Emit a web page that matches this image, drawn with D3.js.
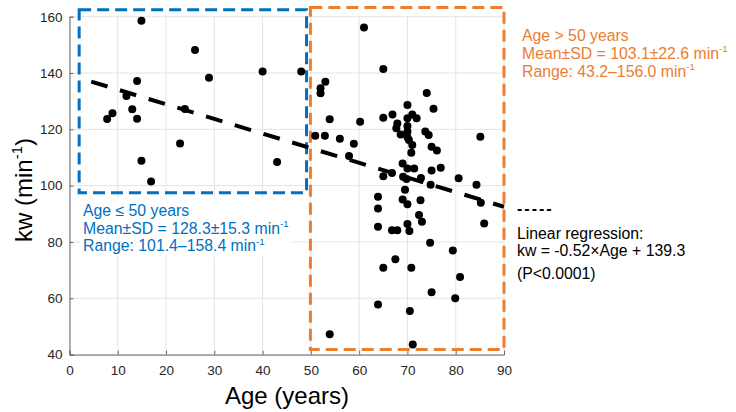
<!DOCTYPE html>
<html>
<head>
<meta charset="utf-8">
<script src="https://cdn.jsdelivr.net/npm/d3@7"></script>
<style>
    body { margin: 0; background: #fff; }
    text { font-family: "Liberation Sans", Arial, Helvetica, sans-serif; }
</style>
</head>
<body>
<div id="container"></div>
<script>
// ages and kw values, age <= 50 group
var youngAge = [7.8, 8.9, 11.8, 13.0, 14.0, 14.0, 14.9, 14.9, 16.9, 22.9, 23.9, 26.0, 28.9, 40.0, 43.0, 48.0];
var youngKw  = [123.7, 125.7, 131.8, 127.1, 137.2, 123.8, 158.6, 108.8, 101.5, 115.0, 127.2, 148.2, 138.3, 140.5, 108.4, 140.5];

// ages and kw values, age > 50 group
var oldAge = [50.9, 52.9, 53.0, 52.0, 52.0, 53.9, 56.0, 57.9, 58.9, 60.2, 61.0, 65.0, 53.9,
    74.0, 70.0, 75.4, 66.9, 65.0, 71.0, 70.0, 71.9, 67.9, 67.7, 70.0, 70.0, 68.6, 70.0, 70.3,
    73.7, 74.4, 71.0, 75.0, 76.1, 70.8, 85.1, 69.0, 70.0, 71.4, 66.8, 65.0, 75.0, 76.9, 69.1,
    69.8, 72.8, 74.8, 80.6, 84.3, 69.5, 63.9, 63.9, 69.0, 70.0, 72.7, 72.4, 73.0, 63.9, 66.8,
    67.9, 70.0, 70.4, 74.7, 79.4, 67.5, 65.0, 70.8, 80.9, 75.0, 79.9, 63.9, 70.5, 71.1, 85.2, 85.9];
var oldKw = [117.7, 117.7, 136.9, 134.6, 132.8, 123.6, 116.7, 110.5, 114.9, 122.7, 156.2, 141.4, 47.2,
    132.9, 128.6, 127.3, 125.3, 124.1, 125.3, 123.9, 123.9, 122.1, 120.4, 121.2, 119.2, 118.2, 117.2, 116.2,
    119.2, 118.0, 114.4, 113.8, 112.5, 111.7, 117.4, 107.9, 106.1, 106.1, 104.5, 103.3, 105.4, 106.4, 103.2,
    102.4, 102.7, 100.3, 102.6, 100.3, 98.5, 96.1, 91.9, 95.1, 93.4, 94.8, 89.6, 87.2, 85.4, 84.2,
    84.2, 86.4, 83.9, 79.7, 77.0, 73.9, 70.8, 70.8, 67.6, 62.1, 60.0, 57.8, 55.5, 43.6, 93.9, 86.6];

// linear regression kw = slope * age + intercept
var regSlope = -0.52;
var regIntercept = 139.3;
var regAgeRange = [4.5, 90];

// group boxes [age min, age max, kw min, kw max]
var youngBox = [2, 49.1, 97.5, 162.5];
var oldBox = [49.9, 90, 41.8, 163.3];

// tick values
var xTicks = [0, 10, 20, 30, 40, 50, 60, 70, 80, 90];
var yTicks = [40, 60, 80, 100, 120, 140, 160];

// annotation texts
var youngText = [["Age \u2264 50 years"], ["Mean\u00b1SD = 128.3\u00b115.3 min", "-1"], ["Range: 101.4\u2013158.4 min", "-1"]];
var oldText = [["Age > 50 years"], ["Mean\u00b1SD = 103.1\u00b122.6 min", "-1"], ["Range: 43.2\u2013156.0 min", "-1"]];
var regText = [["Linear regression:"], ["kw = -0.52\u00d7Age + 139.3"]];
var pText = "(P<0.0001)";

var width = 736, height = 412;
var blue = "#0070C0", orange = "#ED7D31";
var noteSize = 15.8;

var x = d3.scaleLinear().domain([0, 90]).range([69.5, 504]);
var y = d3.scaleLinear().domain([40, 160]).range([354.6, 16.7]);

var svg = d3.select("#container").append("svg")
    .attr("width", width)
    .attr("height", height);

// draw gridlines and axes
function drawAxes() {
    var grid = svg.append("g");
    grid.selectAll("line.vgrid")
        .data(xTicks)
        .enter().append("line")
        .attr("x1", x).attr("x2", x)
        .attr("y1", y(40)).attr("y2", y(160))
        .attr("stroke", "#e4e4e4");
    grid.selectAll("line.hgrid")
        .data(yTicks)
        .enter().append("line")
        .attr("x1", x(0)).attr("x2", x(90))
        .attr("y1", y).attr("y2", y)
        .attr("stroke", "#e4e4e4");

    var xAxis = svg.append("g")
        .attr("transform", "translate(0," + y(40) + ")")
        .call(d3.axisBottom(x).tickValues(xTicks).tickSize(-4).tickPadding(8));
    var yAxis = svg.append("g")
        .attr("transform", "translate(" + x(0) + ",0)")
        .call(d3.axisLeft(y).tickValues(yTicks).tickSize(-4).tickPadding(7));

    [xAxis, yAxis].forEach(function(a) {
        a.select(".domain").attr("stroke", "#6b6b6b");
        a.selectAll(".tick line").attr("stroke", "#6b6b6b");
        a.selectAll(".tick text")
            .attr("fill", "#262626")
            .style("font-size", "13.5px");
    });
    xAxis.selectAll(".tick text").attr("dy", "0.95em");
};

// write a line of text with an optional superscript part
function addLine(g, parts, xPos, yPos, size, color) {
    var t = g.append("text")
        .attr("x", xPos)
        .attr("y", yPos)
        .attr("fill", color)
        .style("font-size", size + "px");
    t.append("tspan").text(parts[0]);
    if (parts.length > 1) {
        t.append("tspan")
            .attr("dy", -size * 0.42)
            .style("font-size", (size * 0.62) + "px")
            .text(parts[1]);
    }
    return t;
};

// draw the two group boxes
function drawBoxes() {
    [[youngBox, blue], [oldBox, orange]].forEach(function(b) {
        var box = b[0];
        svg.append("rect")
            .attr("x", x(box[0]))
            .attr("y", y(box[3]))
            .attr("width", x(box[1]) - x(box[0]))
            .attr("height", y(box[2]) - y(box[3]))
            .attr("fill", "none")
            .attr("stroke", b[1])
            .attr("stroke-width", 3)
            .attr("stroke-dasharray", "12,6");
    });
};

// draw the scatter points and regression line
function drawData() {
    var line = d3.line()
        .x(function(d) { return x(d); })
        .y(function(d) { return y(regSlope * d + regIntercept); });
    svg.append("path")
        .datum(regAgeRange)
        .attr("d", line)
        .attr("fill", "none")
        .attr("stroke", "#000")
        .attr("stroke-width", 4)
        .attr("stroke-dasharray", "17,13");

    var points = youngAge.map(function(a, i) { return [a, youngKw[i]]; })
        .concat(oldAge.map(function(a, i) { return [a, oldKw[i]]; }));
    svg.selectAll("circle.pt")
        .data(points)
        .enter().append("circle")
        .attr("class", "pt")
        .attr("cx", function(d) { return x(d[0]); })
        .attr("cy", function(d) { return y(d[1]); })
        .attr("r", 4)
        .attr("fill", "#000");
};

// add group and regression annotations
function drawAnnotations() {
    // blue text sits on a white box inside the plot
    var bg = svg.append("rect").attr("fill", "#fff");
    var gy = svg.append("g");
    youngText.forEach(function(p, i) { addLine(gy, p, 83, 216 + i * 17.6, noteSize, blue); });
    var bb = gy.node().getBBox();
    bg.attr("x", bb.x - 3).attr("y", bb.y - 3).attr("width", bb.width + 5).attr("height", bb.height + 5);

    var go = svg.append("g");
    oldText.forEach(function(p, i) { addLine(go, p, 522, 41 + i * 18, noteSize, orange); });

    var gr = svg.append("g");
    gr.append("text")
        .attr("x", 517).attr("y", 214)
        .attr("fill", "#000")
        .style("font-size", "16px")
        .style("font-weight", "bold")
        .style("letter-spacing", "2px")
        .text("-----");
    regText.forEach(function(p, i) { addLine(gr, p, 517, 239 + i * 17.4, noteSize, "#000"); });
    addLine(gr, [pText], 517, 279, noteSize, "#000");

    // axis titles
    svg.append("text")
        .attr("x", 287).attr("y", 404)
        .attr("text-anchor", "middle")
        .attr("fill", "#000")
        .style("font-size", "24px")
        .text("Age (years)");
    var yl = svg.append("text")
        .attr("transform", "translate(32,190) rotate(-90)")
        .attr("text-anchor", "middle")
        .attr("fill", "#000")
        .style("font-size", "24px");
    yl.append("tspan").text("kw (min");
    yl.append("tspan").attr("dy", -10).style("font-size", "15px").text("-1");
    yl.append("tspan").attr("dy", 10).text(")");
};

drawAxes();
drawBoxes();
drawData();
drawAnnotations();
</script>
</body>
</html>
